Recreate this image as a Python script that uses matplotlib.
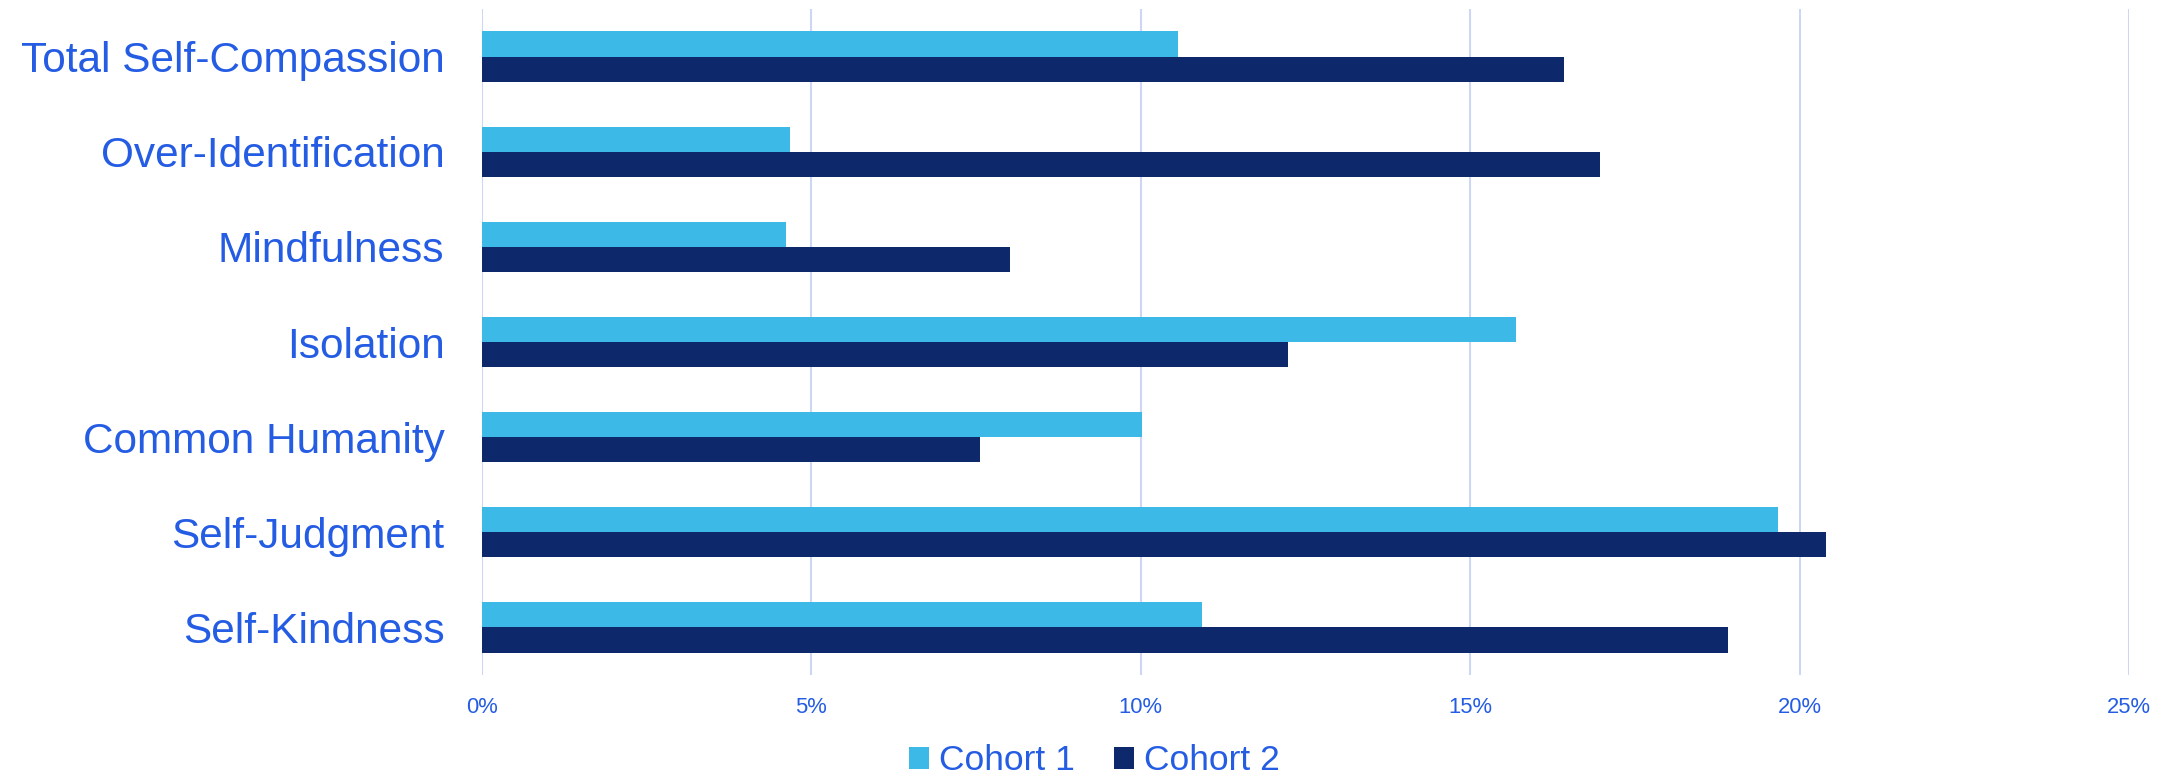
import matplotlib
matplotlib.use("Agg")
import matplotlib.pyplot as plt
import numpy as np

# categories, bottom to top (Excel order)
categories = ["Self-Kindness", "Self-Judgment", "Common Humanity", "Isolation",
              "Mindfulness", "Over-Identification", "Total Self-Compassion"]
cohort1 = [10.93, 19.67, 10.02, 15.69, 4.61, 4.67, 10.56]
cohort2 = [18.91, 20.40, 7.56, 12.23, 8.02, 16.97, 16.43]
xticks = [0, 5, 10, 15, 20, 25]

plt.rcParams['font.family'] = ['Liberation Sans', 'DejaVu Sans']

text_blue = "#245CE3"
cyan = "#3DB9E8"
navy = "#0D296B"
grid_col = "#CDD6F2"

fig = plt.figure(figsize=(21.72, 7.78), dpi=100)
ax = fig.add_axes([0.2219, 0.1324, 0.9802 - 0.2219, 0.9884 - 0.1324])

y = np.arange(len(categories))
h = 0.265
ax.barh(y + h / 2, cohort1, height=h, color=cyan, label="Cohort 1", zorder=3)
ax.barh(y - h / 2, cohort2, height=h, color=navy, label="Cohort 2", zorder=3)

ax.set_xlim(0, 25)
ax.set_ylim(-0.5, len(categories) - 0.5)
ax.set_xticks(xticks)
ax.set_xticklabels([f"{t}%" for t in xticks])
ax.set_yticks(y)
ax.set_yticklabels(categories)

for s in ax.spines.values():
    s.set_visible(False)
ax.xaxis.grid(True, color=grid_col, linewidth=1.5, zorder=0)
ax.tick_params(axis='x', length=0, pad=16, labelsize=15.8, labelcolor=text_blue)
ax.tick_params(axis='y', length=0, pad=27, labelsize=30.5, labelcolor=text_blue)

fig.legend(loc='center', bbox_to_anchor=(0.504, 0.022), ncol=2, frameon=False,
           fontsize=25.5, labelcolor=text_blue, handlelength=0.57, handleheight=0.57,
           handletextpad=0.28, columnspacing=1.1, borderaxespad=0, borderpad=0)

fig.savefig("out.png", dpi=100, facecolor="white")
